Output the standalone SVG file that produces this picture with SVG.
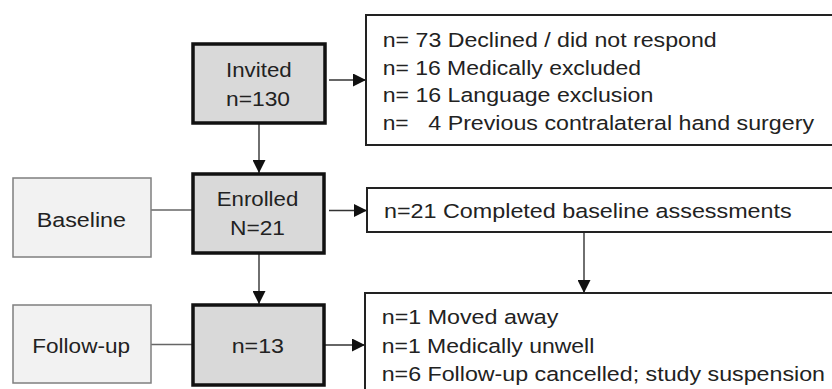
<svg xmlns="http://www.w3.org/2000/svg" width="832" height="389" viewBox="0 0 832 389">
<style>
  text { font-family: "Liberation Sans", Arial, sans-serif; font-size: 20.5px; fill: #222; }
  .main { fill: #d9d9d9; stroke: #111; stroke-width: 3.5; }
  .side { fill: #f2f2f2; stroke: #7f7f7f; stroke-width: 1.5; }
  .info { fill: #fff; stroke: #222; stroke-width: 2; }
  .arrow { stroke: #333; stroke-width: 1.4; fill: none; marker-end: url(#ah); }
  .link { stroke: #666; stroke-width: 1.4; fill: none; }
</style>
<defs>
  <marker id="ah" markerUnits="userSpaceOnUse" markerWidth="13" markerHeight="13" refX="13" refY="6.5" orient="auto">
    <path d="M0,0 L13,6.5 L0,13 z" fill="#111"/>
  </marker>
</defs>
<rect width="832" height="389" fill="#fff"/>
<g id="connectors">
  <line class="arrow" x1="329" y1="80" x2="366" y2="80"/>
  <line class="arrow" x1="259" y1="123" x2="259" y2="173"/>
  <line class="link" x1="151" y1="210" x2="192" y2="210"/>
  <line class="arrow" x1="329" y1="210.5" x2="367" y2="210.5"/>
  <line class="arrow" x1="259" y1="253" x2="259" y2="304"/>
  <line class="arrow" x1="584" y1="232" x2="584" y2="293"/>
  <line class="link" x1="151" y1="344.5" x2="192" y2="344.5"/>
  <line class="arrow" x1="325" y1="345" x2="365" y2="345"/>
</g>
<g id="invited">
  <rect class="main" x="193" y="44" width="132" height="79"/>
  <text x="226" y="77" textLength="65.7" lengthAdjust="spacingAndGlyphs">Invited</text>
  <text x="226" y="106" textLength="64" lengthAdjust="spacingAndGlyphs">n=130</text>
</g>
<g id="excluded">
  <rect class="info" x="366" y="15" width="480" height="130"/>
  <text x="382.7" y="46.5" textLength="334" lengthAdjust="spacingAndGlyphs">n= 73 Declined / did not respond</text>
  <text x="382.7" y="74.5" textLength="258.3" lengthAdjust="spacingAndGlyphs">n= 16 Medically excluded</text>
  <text x="382.7" y="102" textLength="270.6" lengthAdjust="spacingAndGlyphs">n= 16 Language exclusion</text>
  <text x="382.7" y="129.5" textLength="26" lengthAdjust="spacingAndGlyphs">n=</text>
  <text x="428.3" y="129.5" textLength="385.7" lengthAdjust="spacingAndGlyphs">4 Previous contralateral hand surgery</text>
</g>
<g id="baseline">
  <rect class="side" x="13" y="178" width="138" height="79"/>
  <text x="36.7" y="226.7" textLength="89.3" lengthAdjust="spacingAndGlyphs">Baseline</text>
</g>
<g id="enrolled">
  <rect class="main" x="193" y="174" width="131" height="79"/>
  <text x="216.7" y="206" textLength="81.6" lengthAdjust="spacingAndGlyphs">Enrolled</text>
  <text x="230" y="235" textLength="55" lengthAdjust="spacingAndGlyphs">N=21</text>
</g>
<g id="completed">
  <rect class="info" x="367" y="188" width="480" height="44"/>
  <text x="384" y="218" textLength="407.7" lengthAdjust="spacingAndGlyphs">n=21 Completed baseline assessments</text>
</g>
<g id="followup">
  <rect class="side" x="13" y="305" width="138" height="78"/>
  <text x="32.3" y="352.7" textLength="97.7" lengthAdjust="spacingAndGlyphs">Follow-up</text>
</g>
<g id="n13">
  <rect class="main" x="193" y="305" width="131" height="80"/>
  <text x="231.7" y="352.7" textLength="52.3" lengthAdjust="spacingAndGlyphs">n=13</text>
</g>
<g id="lost">
  <rect class="info" x="365" y="293" width="480" height="110"/>
  <text x="381.7" y="324" textLength="176.6" lengthAdjust="spacingAndGlyphs">n=1 Moved away</text>
  <text x="381.7" y="352.7" textLength="212.6" lengthAdjust="spacingAndGlyphs">n=1 Medically unwell</text>
  <text x="381.7" y="380.7" textLength="443.3" lengthAdjust="spacingAndGlyphs">n=6 Follow-up cancelled; study suspension</text>
</g>
</svg>
